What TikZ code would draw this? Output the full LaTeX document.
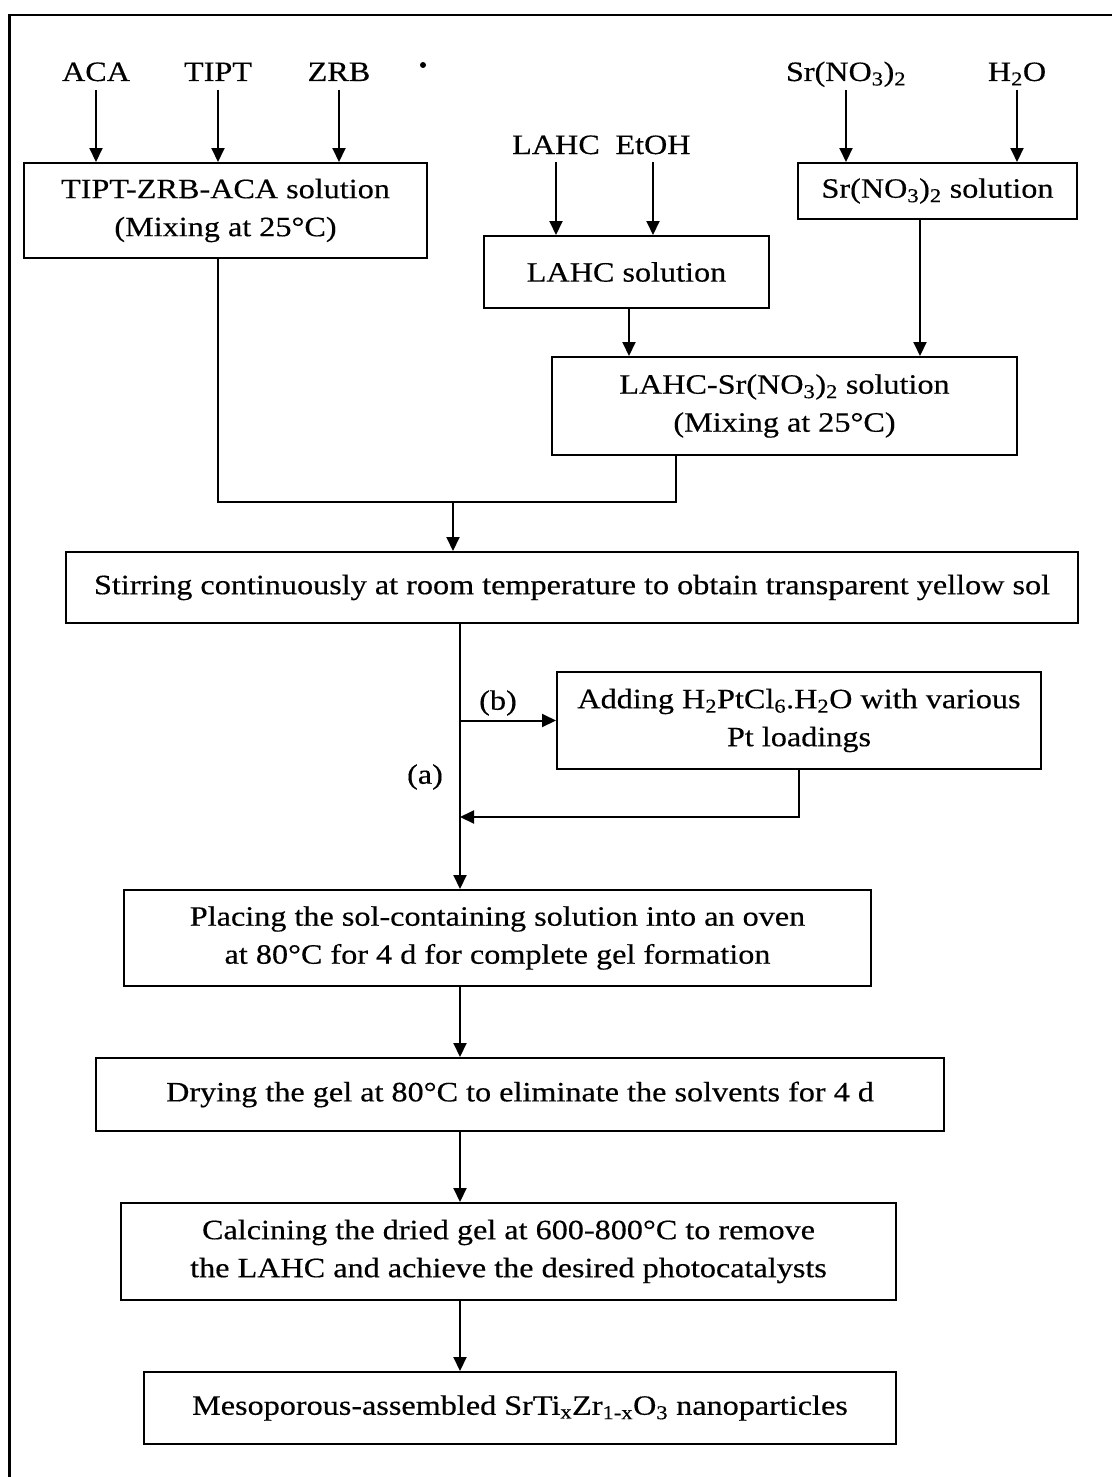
\documentclass[tikz,border=0pt]{standalone}
\usepackage{fontspec}
\setmainfont{Liberation Serif}[FakeStretch=1.15,FakeBold=0.4]
\usetikzlibrary{arrows.meta}
\newcommand{\sbs}[1]{\textsubscript{#1}}
\tikzset{
  box/.style={draw, line width=2pt, align=center, inner sep=0pt},
  lbl/.style={inner sep=0pt, anchor=base},
  arr/.style={line width=2pt, -{Triangle[length=14pt,width=13pt]}},
  ln/.style={line width=2pt},
}
\begin{document}
\begin{tikzpicture}[x=1pt,y=-1pt,font=\fontsize{28}{38}\selectfont]
\useasboundingbox (0,0) rectangle (1112,1477);
% frame
\draw[line width=2.5pt] (9.5,1477) |- (1112,15);
% stray dot
\node[circle, fill, inner sep=0pt, minimum size=6pt] (dot) at (423,65) {};
% inputs
\node[lbl] (aca) at (96,81) {ACA};
\node[lbl] (tipt) at (218,81) {TIPT};
\node[lbl] (zrb) at (339,81) {ZRB};
\node[lbl] (sr) at (846,81) {Sr(NO\sbs{3})\sbs{2}};
\node[lbl] (h2o) at (1017,81) {H\sbs{2}O};
\node[lbl] (lahc) at (556,154) {LAHC};
\node[lbl] (etoh) at (653,154) {EtOH};
% boxes
\node[box, minimum width=403pt, minimum height=95pt] (tza) at (225.5,210.5) {TIPT-ZRB-ACA solution\\(Mixing at 25°C)};
\node[box, minimum width=279pt, minimum height=56pt] (srs) at (937.5,191) {Sr(NO\sbs{3})\sbs{2} solution};
\node[box, minimum width=285pt, minimum height=72pt] (lahcs) at (626.5,272) {LAHC solution};
\node[box, minimum width=465pt, minimum height=98pt] (mix) at (784.5,406) {LAHC-Sr(NO\sbs{3})\sbs{2} solution\\(Mixing at 25°C)};
\node[box, minimum width=1012pt, minimum height=71pt] (stir) at (572,587.5) {Stirring continuously at room temperature to obtain transparent yellow sol};
\node[box, minimum width=484pt, minimum height=97pt] (add) at (799,720.5) {Adding H\sbs{2}PtCl\sbs{6}.H\sbs{2}O with various\\Pt loadings};
\node[box, minimum width=747pt, minimum height=96pt] (place) at (497.5,938) {Placing the sol-containing solution into an oven\\at 80°C for 4 d for complete gel formation};
\node[box, minimum width=848pt, minimum height=73pt] (dry) at (520,1094.5) {Drying the gel at 80°C to eliminate the solvents for 4 d};
\node[box, minimum width=775pt, minimum height=97pt] (calc) at (508.5,1251.5) {Calcining the dried gel at 600-800°C to remove\\the LAHC and achieve the desired photocatalysts};
\node[box, minimum width=752pt, minimum height=72pt] (meso) at (520,1408) {Mesoporous-assembled SrTi\sbs{x}Zr\sbs{1-x}O\sbs{3} nanoparticles};
% labels
\node (lb) at (498,703) {(b)};
\node (la) at (425,777) {(a)};
% helper coordinates
\coordinate (j) at (453,502);
\coordinate (trunk) at (460,650);
\coordinate (ret) at (460,817);
% connectors
\draw[arr] ([yshift=-9pt]aca.base) -- (aca.base |- tza.north);
\draw[arr] ([yshift=-9pt]tipt.base) -- (tipt.base |- tza.north);
\draw[arr] ([yshift=-9pt]zrb.base) -- (zrb.base |- tza.north);
\draw[arr] ([yshift=-9pt]sr.base) -- (sr.base |- srs.north);
\draw[arr] ([yshift=-9pt]h2o.base) -- (h2o.base |- srs.north);
\draw[arr] ([yshift=-8pt]lahc.base) -- (lahc.base |- lahcs.north);
\draw[arr] ([yshift=-8pt]etoh.base) -- (etoh.base |- lahcs.north);
\draw[arr] ([xshift=2.5pt]lahcs.south) -- ([xshift=2.5pt]lahcs.south |- mix.north);
\draw[arr] ([xshift=-17.5pt]srs.south) -- ([xshift=-17.5pt]srs.south |- mix.north);
\draw[ln] (tza.south -| tipt) |- ([xshift=-108.5pt]mix.south |- j) -- ([xshift=-108.5pt]mix.south);
\draw[arr] (j) -- (j |- stir.north);
\draw[arr] (stir.south -| trunk) -- (place.north -| trunk);
\draw[arr] (trunk |- add.west) -- (add.west);
\draw[arr] (add.south) |- (ret);
\draw[arr] (place.south -| trunk) -- (dry.north -| trunk);
\draw[arr] (dry.south -| trunk) -- (calc.north -| trunk);
\draw[arr] (calc.south -| trunk) -- (meso.north -| trunk);
\end{tikzpicture}
\end{document}
